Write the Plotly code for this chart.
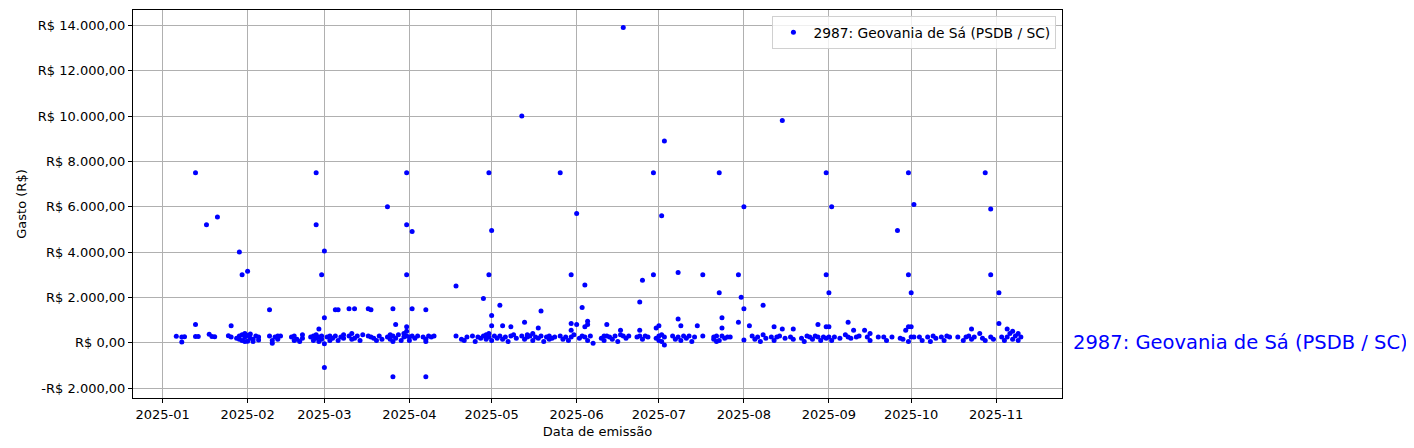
import plotly.graph_objects as go

serie_nome = "2987: Geovania de Sá (PSDB / SC)"

jan = [("2025-01-06",280),("2025-01-08",250),("2025-01-08",30),("2025-01-09",260),
       ("2025-01-13",7500),("2025-01-13",800),("2025-01-13",270),("2025-01-14",270),
       ("2025-01-17",5200),("2025-01-18",370),("2025-01-19",270),("2025-01-20",260),
       ("2025-01-21",5550),("2025-01-25",310),("2025-01-26",750),("2025-01-26",250),
       ("2025-01-28",200),("2025-01-29",4000),("2025-01-29",300),("2025-01-29",150),
       ("2025-01-30",3000),("2025-01-30",350),("2025-01-30",100),("2025-01-31",400),
       ("2025-01-31",250),("2025-01-31",50)]
fev = [("2025-02-01",3150),("2025-02-01",60),("2025-02-01",320),("2025-02-02",200),("2025-02-02",380),
       ("2025-02-03",150),("2025-02-03",50),("2025-02-04",300),("2025-02-05",250),("2025-02-05",120),
       ("2025-02-09",1450),("2025-02-09",300),("2025-02-10",100),("2025-02-10",-30),("2025-02-11",250),
       ("2025-02-12",150),("2025-02-12",300),("2025-02-13",300),("2025-02-17",250),("2025-02-18",300),
       ("2025-02-18",100),("2025-02-19",150),("2025-02-20",50),("2025-02-21",350),("2025-02-21",200),
       ("2025-02-24",250),("2025-02-25",100),("2025-02-25",300),("2025-02-26",7500),("2025-02-26",5200),
       ("2025-02-26",200),("2025-02-26",350),("2025-02-27",250),("2025-02-27",50),("2025-02-27",600),
       ("2025-02-28",3000),("2025-02-28",300),("2025-02-28",150)]
mar = [("2025-03-01",4050),("2025-03-01",1100),("2025-03-01",-1100),("2025-03-01",-50),("2025-03-02",250),
       ("2025-03-03",100),("2025-03-03",300),("2025-03-04",200),("2025-03-05",1450),("2025-03-05",300),
       ("2025-03-06",1450),("2025-03-06",100),("2025-03-07",250),("2025-03-08",200),("2025-03-08",350),
       ("2025-03-10",1500),("2025-03-10",300),("2025-03-11",400),("2025-03-11",150),("2025-03-12",1500),
       ("2025-03-12",200),("2025-03-13",300),("2025-03-14",100),("2025-03-15",350),("2025-03-17",1500),
       ("2025-03-17",300),("2025-03-18",1450),("2025-03-18",250),("2025-03-19",200),("2025-03-20",100),
       ("2025-03-21",300),("2025-03-22",150),("2025-03-24",6000),("2025-03-24",250),("2025-03-25",150),
       ("2025-03-25",350),("2025-03-26",-1500),("2025-03-26",1500),("2025-03-26",300),("2025-03-26",50),
       ("2025-03-27",800),("2025-03-27",200),("2025-03-28",350),("2025-03-29",100),("2025-03-30",250),
       ("2025-03-30",400),("2025-03-31",7500),("2025-03-31",5200),("2025-03-31",3000),("2025-03-31",300),
       ("2025-03-31",700),("2025-03-31",500)]
abr = [("2025-04-01",250),("2025-04-01",100),("2025-04-02",4900),("2025-04-02",1500),("2025-04-02",300),
       ("2025-04-03",200),("2025-04-04",300),("2025-04-06",250),("2025-04-07",-1500),("2025-04-07",1450),
       ("2025-04-07",150),("2025-04-07",50),("2025-04-08",300),("2025-04-09",250),("2025-04-10",300),
       ("2025-04-18",2500),("2025-04-18",300),("2025-04-20",150),("2025-04-21",100),("2025-04-22",250),
       ("2025-04-24",300),("2025-04-25",50),("2025-04-26",250),("2025-04-27",200),("2025-04-28",1950),
       ("2025-04-28",300),("2025-04-29",150),("2025-04-29",350),("2025-04-30",7500),("2025-04-30",3000),
       ("2025-04-30",250),("2025-04-30",400)]
mai = [("2025-05-01",4950),("2025-05-01",1200),("2025-05-01",750),("2025-05-01",100),("2025-05-02",300),
       ("2025-05-03",200),("2025-05-04",1650),("2025-05-04",300),("2025-05-05",750),("2025-05-05",150),
       ("2025-05-06",250),("2025-05-07",50),("2025-05-08",700),("2025-05-08",300),("2025-05-09",350),
       ("2025-05-10",200),("2025-05-12",10000),("2025-05-12",300),("2025-05-13",900),("2025-05-13",150),
       ("2025-05-14",350),("2025-05-14",250),("2025-05-15",300),("2025-05-16",100),("2025-05-16",400),
       ("2025-05-17",250),("2025-05-18",650),("2025-05-18",200),("2025-05-19",1400),("2025-05-19",300),
       ("2025-05-20",50),("2025-05-21",250),("2025-05-22",150),("2025-05-22",300),("2025-05-23",200),
       ("2025-05-24",250),("2025-05-26",7500),("2025-05-26",300),("2025-05-27",150),("2025-05-28",250),
       ("2025-05-29",100),("2025-05-30",3000),("2025-05-30",850),("2025-05-30",550),("2025-05-30",250),
       ("2025-05-31",350)]
jun = [("2025-06-01",5700),("2025-06-01",800),("2025-06-02",200),("2025-06-03",1550),("2025-06-03",300),
       ("2025-06-04",2550),("2025-06-04",700),("2025-06-04",250),("2025-06-05",950),("2025-06-05",800),
       ("2025-06-05",100),("2025-06-06",300),("2025-06-07",-30),("2025-06-10",200),("2025-06-11",300),
       ("2025-06-11",100),("2025-06-12",800),("2025-06-12",300),("2025-06-13",250),("2025-06-14",150),
       ("2025-06-15",300),("2025-06-16",50),("2025-06-17",350),("2025-06-17",550),("2025-06-18",13900),
       ("2025-06-18",300),("2025-06-19",200),("2025-06-20",300),("2025-06-23",250),("2025-06-24",1800),
       ("2025-06-24",550),("2025-06-24",300),("2025-06-25",2750),("2025-06-25",150),("2025-06-26",300),
       ("2025-06-27",250),("2025-06-29",7500),("2025-06-29",3000),("2025-06-30",650),("2025-06-30",200)]
jul = [("2025-07-01",750),("2025-07-01",100),("2025-07-01",300),("2025-07-02",5600),("2025-07-02",50),
       ("2025-07-02",350),("2025-07-03",8900),("2025-07-03",-100),("2025-07-03",250),("2025-07-06",300),
       ("2025-07-07",150),("2025-07-08",3100),("2025-07-08",1050),("2025-07-08",250),("2025-07-09",750),
       ("2025-07-09",100),("2025-07-10",300),("2025-07-11",200),("2025-07-12",300),("2025-07-13",50),
       ("2025-07-14",250),("2025-07-15",750),("2025-07-17",3000),("2025-07-17",300),("2025-07-21",250),
       ("2025-07-21",150),("2025-07-22",300),("2025-07-22",50),("2025-07-23",7500),("2025-07-23",2200),
       ("2025-07-23",100),("2025-07-24",1100),("2025-07-24",650),("2025-07-24",300),("2025-07-25",200),
       ("2025-07-26",250),("2025-07-27",250),("2025-07-30",900),("2025-07-30",3000),("2025-07-31",2000)]
ago = [("2025-08-01",6000),("2025-08-01",1500),("2025-08-01",120),("2025-08-03",750),("2025-08-04",300),
       ("2025-08-05",150),("2025-08-06",250),("2025-08-07",50),("2025-08-08",1650),("2025-08-08",350),
       ("2025-08-09",200),("2025-08-11",250),("2025-08-12",700),("2025-08-12",100),("2025-08-13",250),
       ("2025-08-14",300),("2025-08-15",9800),("2025-08-15",600),("2025-08-16",200),("2025-08-18",250),
       ("2025-08-19",600),("2025-08-19",150),("2025-08-22",200),("2025-08-23",50),("2025-08-24",300),
       ("2025-08-25",250),("2025-08-26",150),("2025-08-27",300),("2025-08-28",800),("2025-08-28",250),
       ("2025-08-29",100),("2025-08-30",250),("2025-08-31",7500),("2025-08-31",3000),("2025-08-31",700),
       ("2025-08-31",200)]
setb = [("2025-09-01",2200),("2025-09-01",700),("2025-09-01",250),("2025-09-02",6000),("2025-09-02",100),
        ("2025-09-03",250),("2025-09-05",200),("2025-09-07",350),("2025-09-08",900),("2025-09-08",250),
        ("2025-09-09",200),("2025-09-10",550),("2025-09-11",250),("2025-09-12",300),("2025-09-14",550),
        ("2025-09-15",250),("2025-09-16",100),("2025-09-16",400),("2025-09-19",250),("2025-09-21",250),
        ("2025-09-22",100),("2025-09-24",250),("2025-09-26",4950),("2025-09-27",200),("2025-09-28",150),
        ("2025-09-29",550),("2025-09-30",7500),("2025-09-30",3000),("2025-09-30",700),("2025-09-30",50)]
out = [("2025-10-01",2200),("2025-10-01",700),("2025-10-01",250),("2025-10-02",6100),("2025-10-02",250),
       ("2025-10-04",250),("2025-10-05",100),("2025-10-07",250),("2025-10-08",50),("2025-10-09",300),
       ("2025-10-10",200),("2025-10-12",250),("2025-10-13",100),("2025-10-14",300),("2025-10-15",250),
       ("2025-10-18",250),("2025-10-20",100),("2025-10-21",250),("2025-10-22",300),("2025-10-23",600),
       ("2025-10-23",150),("2025-10-24",250),("2025-10-26",400),("2025-10-27",200),("2025-10-28",7500),
       ("2025-10-28",100),("2025-10-30",5900),("2025-10-30",3000),("2025-10-30",250),("2025-10-31",150)]
nov = [("2025-11-02",2200),("2025-11-02",850),("2025-11-03",250),("2025-11-04",100),("2025-11-05",600),
       ("2025-11-05",250),("2025-11-06",400),("2025-11-07",500),("2025-11-07",150),("2025-11-08",300),
       ("2025-11-09",400),("2025-11-09",100),("2025-11-10",250)]

y_ticks = [-2000, 0, 2000, 4000, 6000, 8000, 10000, 12000, 14000]
y_labels = ["-R$ 2.000,00", "R$ 0,00", "R$ 2.000,00", "R$ 4.000,00", "R$ 6.000,00",
            "R$ 8.000,00", "R$ 10.000,00", "R$ 12.000,00", "R$ 14.000,00"]
x_ticks = ["2025-01-01", "2025-02-01", "2025-03-01", "2025-04-01", "2025-05-01", "2025-06-01",
           "2025-07-01", "2025-08-01", "2025-09-01", "2025-10-01", "2025-11-01"]
x_labels = [d[:7] for d in x_ticks]

todos = jan + fev + mar + abr + mai + jun + jul + ago + setb + out + nov
datas = [d for d, _ in todos]
gastos = [v for _, v in todos]

FONT = "DejaVu Sans"

fig = go.Figure()
fig.add_trace(go.Scatter(
    x=datas, y=gastos, mode="markers", name=serie_nome,
    marker=dict(color="blue", size=5, line=dict(width=0)),
))

fig.update_layout(
    width=1406, height=440,
    margin=dict(l=125, r=352, t=2, b=50),
    paper_bgcolor="white", plot_bgcolor="white",
    font=dict(family=FONT, size=13, color="black"),
    showlegend=True,
    legend=dict(x=0.994, y=0.985, xanchor="right", yanchor="top",
                bgcolor="rgba(255,255,255,0.8)", bordercolor="#d0d0d0", borderwidth=1,
                font=dict(family=FONT, size=13.8, color="black"),
                itemsizing="trace"),
    annotations=[dict(
        text=serie_nome, xref="paper", yref="y", x=1.01, y=0,
        xanchor="left", yanchor="middle", showarrow=False,
        font=dict(family=FONT, size=19.5, color="blue"),
    )],
)

fig.update_xaxes(
    type="date", range=["2024-12-21 05:00", "2025-11-25 00:00"],
    tickvals=x_ticks, ticktext=x_labels,
    showgrid=True, gridcolor="#b0b0b0", gridwidth=1,
    showline=True, linecolor="black", linewidth=1, mirror=True,
    ticks="outside", ticklen=4, tickcolor="black",
    zeroline=False,
    title=dict(text="Data de emissão", font=dict(family=FONT, size=13), standoff=6),
)
fig.update_yaxes(
    range=[-2440, 14676],
    tickvals=y_ticks, ticktext=y_labels,
    showgrid=True, gridcolor="#b0b0b0", gridwidth=1,
    showline=True, linecolor="black", linewidth=1, mirror=True,
    ticks="outside", ticklen=4, tickcolor="black",
    zeroline=False,
    title=dict(text="Gasto (R$)", font=dict(family=FONT, size=13), standoff=8),
)

fig.write_html("out.html")
